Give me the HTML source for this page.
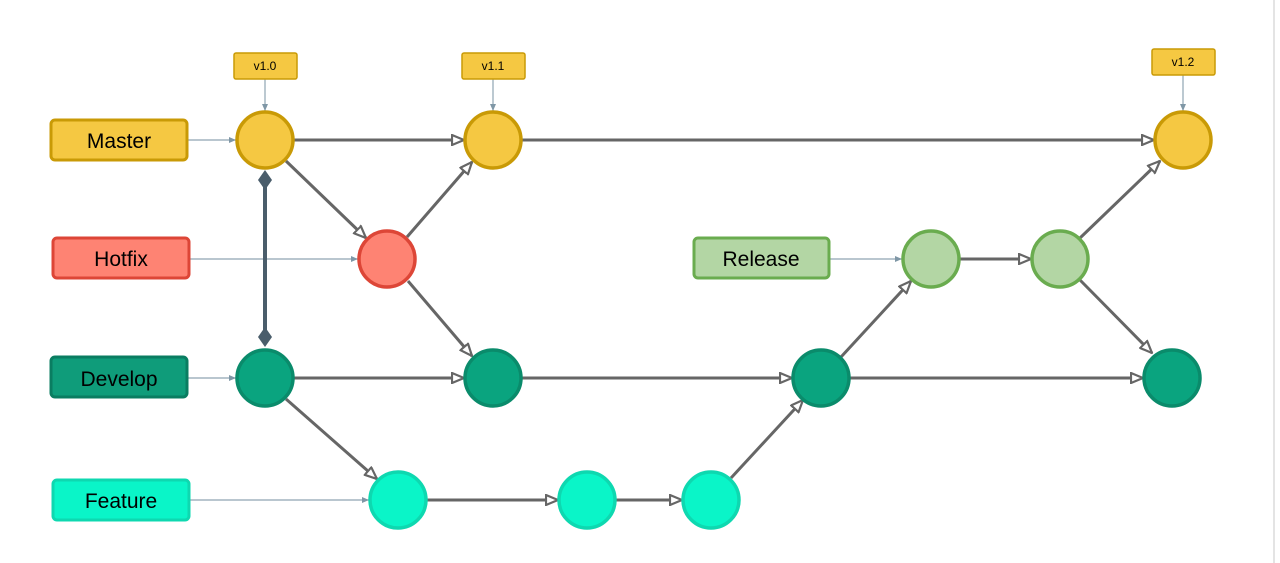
<!DOCTYPE html>
<html><head><style>
html,body{margin:0;padding:0;background:#fff;width:1280px;height:563px;overflow:hidden}
text{font-family:"Liberation Sans",Arial,sans-serif}
</style></head><body>
<svg width="1280" height="563" xmlns="http://www.w3.org/2000/svg">
<defs>
<marker id="a" markerWidth="14" markerHeight="12" refX="13" refY="6" orient="auto" markerUnits="userSpaceOnUse">
<path d="M1,1 L13,6 L1,11 Z" fill="#fff" stroke="#666" stroke-width="2.2"/></marker>
<marker id="s" markerWidth="8" markerHeight="6" refX="7" refY="3" orient="auto" markerUnits="userSpaceOnUse">
<path d="M0,0 L7,3 L0,6 Z" fill="#7f97a6"/></marker>
</defs>
<line x1="1274" y1="0" x2="1274" y2="563" stroke="#e4e4e4" stroke-width="2"/>
<!-- thin connectors -->
<g stroke="#8fa5b2" stroke-width="1.2" fill="none" marker-end="url(#s)">
<line x1="188" y1="140" x2="236" y2="140"/>
<line x1="190" y1="259" x2="358" y2="259"/>
<line x1="188" y1="378" x2="236" y2="378"/>
<line x1="190" y1="500" x2="369" y2="500"/>
<line x1="830" y1="259" x2="902" y2="259"/>
<line x1="265" y1="79" x2="265" y2="111"/>
<line x1="493" y1="79" x2="493" y2="111"/>
<line x1="1183" y1="75" x2="1183" y2="111"/>
</g>
<!-- thick arrows -->
<g stroke="#666" stroke-width="3" fill="none" marker-end="url(#a)">
<line x1="294" y1="140" x2="464" y2="140"/>
<line x1="522" y1="140" x2="1154" y2="140"/>
<line x1="286" y1="161" x2="366" y2="238"/>
<line x1="407" y1="237" x2="472" y2="162"/>
<line x1="408" y1="281" x2="472" y2="356"/>
<line x1="294" y1="378" x2="464" y2="378"/>
<line x1="522" y1="378" x2="792" y2="378"/>
<line x1="850" y1="378" x2="1143" y2="378"/>
<line x1="286" y1="399" x2="377" y2="479"/>
<line x1="427" y1="500" x2="558" y2="500"/>
<line x1="616" y1="500" x2="682" y2="500"/>
<line x1="731" y1="478" x2="803" y2="400"/>
<line x1="841" y1="357" x2="911" y2="281"/>
<line x1="960" y1="259" x2="1031" y2="259"/>
<line x1="1080" y1="238" x2="1160" y2="161"/>
<line x1="1080" y1="280" x2="1152" y2="353"/>
</g>
<!-- diamond line -->
<line x1="265" y1="180" x2="265" y2="337" stroke="#4a5d6b" stroke-width="4"/>
<path d="M265,170 L272,180 L265,190 L258,180 Z" fill="#4a5d6b"/>
<path d="M265,327 L272,337 L265,347 L258,337 Z" fill="#4a5d6b"/>
<!-- labels -->
<g font-size="21" text-anchor="middle">
<rect x="51" y="120" width="136" height="40" rx="4" fill="#f5c842" stroke="#c99a06" stroke-width="3"/>
<text x="119" y="148">Master</text>
<rect x="53" y="238" width="136" height="40" rx="4" fill="#fe8373" stroke="#dd4637" stroke-width="3"/>
<text x="121" y="266">Hotfix</text>
<rect x="51" y="357" width="136" height="40" rx="4" fill="#0f9c7a" stroke="#0a7d61" stroke-width="3"/>
<text x="119" y="386">Develop</text>
<rect x="53" y="480" width="136" height="40" rx="4" fill="#0af5c8" stroke="#0ed8b0" stroke-width="3"/>
<text x="121" y="508">Feature</text>
<rect x="694" y="238" width="135" height="40" rx="4" fill="#b3d6a4" stroke="#6aac4f" stroke-width="3"/>
<text x="761" y="266">Release</text>
</g>
<g font-size="12" text-anchor="middle">
<rect x="234" y="53" width="63" height="26" rx="2" fill="#f5c842" stroke="#c99a06" stroke-width="1.5"/><text x="265" y="70">v1.0</text>
<rect x="462" y="53" width="63" height="26" rx="2" fill="#f5c842" stroke="#c99a06" stroke-width="1.5"/><text x="493" y="70">v1.1</text>
<rect x="1152" y="49" width="63" height="26" rx="2" fill="#f5c842" stroke="#c99a06" stroke-width="1.5"/><text x="1183" y="66">v1.2</text>
</g>
<!-- circles -->
<g stroke-width="3.5">
<circle cx="265" cy="140" r="28" fill="#f5c842" stroke="#c99a06"/>
<circle cx="493" cy="140" r="28" fill="#f5c842" stroke="#c99a06"/>
<circle cx="1183" cy="140" r="28" fill="#f5c842" stroke="#c99a06"/>
<circle cx="387" cy="259" r="28" fill="#fe8373" stroke="#dd4637"/>
<circle cx="265" cy="378" r="28" fill="#0aa47f" stroke="#0a8b6b"/>
<circle cx="493" cy="378" r="28" fill="#0aa47f" stroke="#0a8b6b"/>
<circle cx="821" cy="378" r="28" fill="#0aa47f" stroke="#0a8b6b"/>
<circle cx="1172" cy="378" r="28" fill="#0aa47f" stroke="#0a8b6b"/>
<circle cx="398" cy="500" r="28" fill="#0af5c8" stroke="#0ed8b0"/>
<circle cx="587" cy="500" r="28" fill="#0af5c8" stroke="#0ed8b0"/>
<circle cx="711" cy="500" r="28" fill="#0af5c8" stroke="#0ed8b0"/>
<circle cx="931" cy="259" r="28" fill="#b3d6a4" stroke="#6aac4f"/>
<circle cx="1060" cy="259" r="28" fill="#b3d6a4" stroke="#6aac4f"/>
</g>
</svg>
</body></html>
